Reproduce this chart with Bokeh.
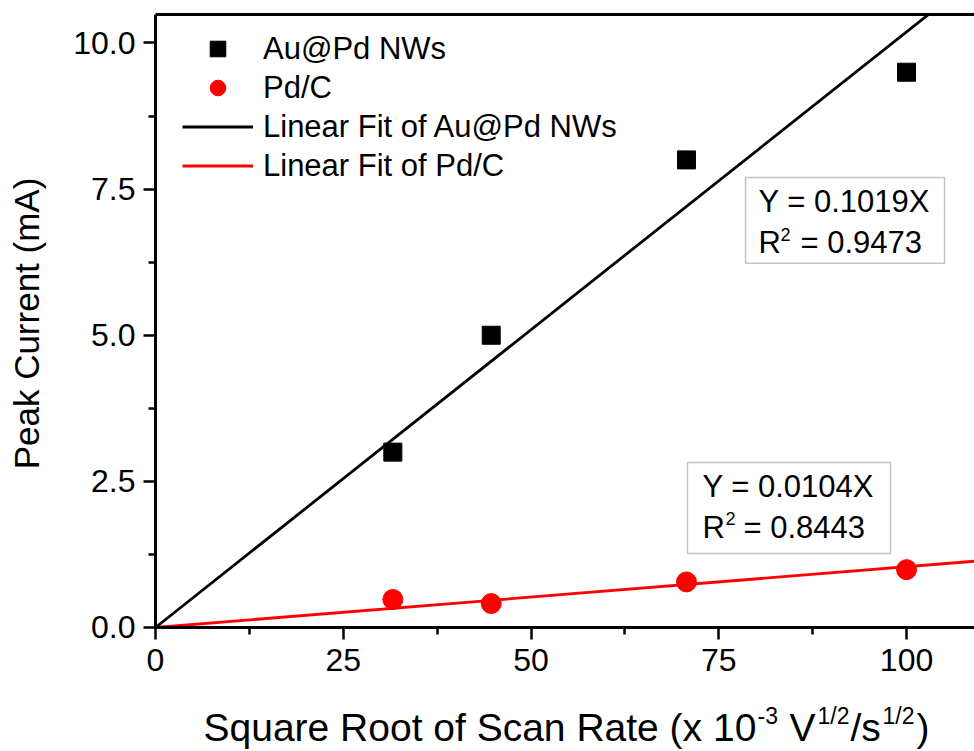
import numpy as np
from bokeh.plotting import figure
from bokeh.models import (Range1d, FixedTicker, LinearAxis, Legend, LegendItem,
                          Label, BoxAnnotation)
from bokeh.embed import file_html
from bokeh.resources import INLINE

# ---------------- data ----------------
x_rate = [31.6, 44.7, 70.7, 100.0]          # sqrt(scan rate), x 10^-3 V^1/2/s^1/2
au_pd_current = [3.0, 5.0, 8.0, 9.5]        # mA
pd_c_current = [0.48, 0.41, 0.78, 0.99]     # mA
au_pd_slope = 0.1019
pd_c_slope = 0.0104
au_pd_r2 = 0.9473
pd_c_r2 = 0.8443

x_ticks = [0, 25, 50, 75, 100]
x_minor_ticks = [12.5, 37.5, 62.5, 87.5]
y_ticks = [0, 2.5, 5, 7.5, 10]
y_tick_labels = ["0.0", "2.5", "5.0", "7.5", "10.0"]
y_minor_ticks = [1.25, 3.75, 6.25, 8.75]

FONT = "Liberation Sans"
# The frame fills the canvas (except a thin top strip); axes sit at x=0 / y=0.
X_START, X_END = -20.64, 109.05
Y_START, Y_END = -2.1215, 10.4875
H = 751  # canvas height

p = figure(width=974, height=H, output_backend="svg", toolbar_location=None,
           x_range=Range1d(X_START, X_END), y_range=Range1d(Y_START, Y_END),
           min_border_left=0, min_border_right=0, min_border_top=14,
           min_border_bottom=0)
p.outline_line_color = None
p.grid.visible = False
p.background_fill_color = "white"
p.border_fill_color = "white"

xax = p.xaxis[0]
yax = p.yaxis[0]
xax.fixed_location = 0
yax.fixed_location = 0
xax.bounds = (0, X_END)
yax.bounds = (0, Y_END)

for ax in (xax, yax):
    ax.axis_line_width = 3
    ax.axis_line_color = "black"
    ax.major_tick_line_width = 2.5
    ax.minor_tick_line_width = 2.5
    ax.major_tick_line_color = "black"
    ax.minor_tick_line_color = "black"
    ax.major_tick_in = 0
    ax.minor_tick_in = 0
    ax.major_tick_out = 12
    ax.minor_tick_out = 7
    ax.major_label_text_font = FONT
    ax.major_label_text_font_size = "32px"
    ax.major_label_text_color = "black"
xax.major_label_standoff = 10
yax.major_label_standoff = 8

xax.ticker = FixedTicker(ticks=x_ticks, minor_ticks=x_minor_ticks)
yax.ticker = FixedTicker(ticks=y_ticks, minor_ticks=y_minor_ticks)
yax.major_label_overrides = {t: l for t, l in zip(y_ticks, y_tick_labels)}
xax.major_label_overrides = {t: str(t) for t in x_ticks}

# top border as a bare axis
top_axis = LinearAxis(ticker=FixedTicker(ticks=[]), axis_line_width=3,
                      axis_line_color="black", major_tick_out=0, minor_tick_out=0,
                      major_label_text_font_size="0px", bounds=(0, X_END))
p.add_layout(top_axis, "above")

# ---------------- glyphs ----------------
fx = np.array([0.0, X_END])
l_au = p.line(fx, au_pd_slope * fx, line_color="black", line_width=2.8)
l_pd = p.line(fx, pd_c_slope * fx, line_color="#ff0000", line_width=2.8)
s_au = p.scatter(x_rate, au_pd_current, marker="square", size=18,
                 fill_color="black", line_color="black")
s_pd = p.scatter(x_rate, pd_c_current, marker="circle", size=20,
                 fill_color="#ff0000", line_color="#ff0000")

legend = Legend(items=[
    LegendItem(label="Au@Pd NWs", renderers=[s_au]),
    LegendItem(label="Pd/C", renderers=[s_pd]),
    LegendItem(label="Linear Fit of Au@Pd NWs", renderers=[l_au]),
    LegendItem(label="Linear Fit of Pd/C", renderers=[l_pd]),
], location=(182, 566), glyph_width=71, glyph_height=39, spacing=0,
    label_standoff=10, padding=0, margin=0, border_line_color=None,
    background_fill_alpha=0, label_text_font=FONT, label_text_font_size="31px",
    label_text_color="black")
p.add_layout(legend)

# ---------------- fit annotation boxes ----------------
box_style = dict(fill_color=None, fill_alpha=0, line_color="#3a3a3a", line_width=1.5)
p.add_layout(BoxAnnotation(left=78.56, right=105.06, top=7.70, bottom=6.23, **box_style))
p.add_layout(BoxAnnotation(left=70.84, right=97.87, top=2.823, bottom=1.266, **box_style))


def lab(text, x, base_y, size=31, angle=0.0, align="left", baseline="alphabetic"):
    # x: canvas px from left; base_y: canvas px from top of the text baseline
    y = H - base_y + 0.34 * size
    p.add_layout(Label(x=x, y=y, x_units="screen", y_units="screen", text=text,
                       text_font=FONT, text_font_size=f"{size}px", text_color="black",
                       text_baseline=baseline, text_align=align, angle=angle))


lab(f"Y = {au_pd_slope:.4f}X", 758, 212)
lab("R", 758, 253)
lab("2", 780, 240, 18)
lab(f"= {au_pd_r2:.4f}", 800, 253)

lab(f"Y = {pd_c_slope:.4f}X", 702, 497)
lab("R", 702, 538)
lab("2", 725, 524, 18)
lab(f"= {pd_c_r2:.4f}", 743, 538)

# ---------------- axis titles ----------------
p.add_layout(Label(x=26, y=H - 323, x_units="screen", y_units="screen",
                   text="Peak Current (mA)", text_font=FONT, text_font_size="35px",
                   text_color="black", text_align="center", text_baseline="middle",
                   angle=np.pi / 2))

lab("Square Root of Scan Rate (x 10", 203, 740, 39)
lab("-3", 757, 723, 23)
lab("V", 789, 740, 39)
lab("1/2", 817, 723, 23)
lab("/s", 850, 740, 39)
lab("1/2", 882, 723, 23)
lab(")", 916, 740, 39)

open("out.html", "w").write(file_html(p, INLINE))
